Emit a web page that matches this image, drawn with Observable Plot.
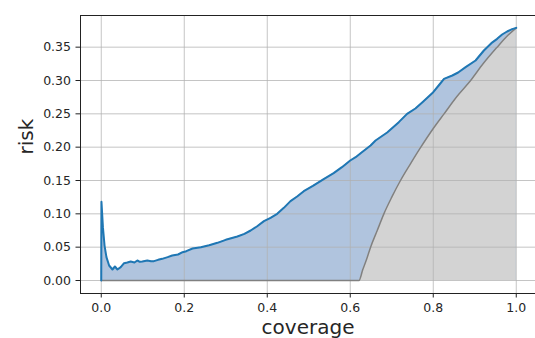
<!DOCTYPE html>
<html>
<head>
<meta charset="utf-8">
<script src="https://cdn.jsdelivr.net/npm/d3@7"></script>
<script src="https://cdn.jsdelivr.net/npm/@observablehq/plot@0.6"></script>
<style>
  html, body { margin: 0; padding: 0; background: white; }
</style>
</head>
<body>
<div id="chart"></div>
<script>
// Risk-coverage curve (blue)
const coverage = [0, 0.0005, 0.004, 0.008, 0.0125, 0.019, 0.027, 0.033, 0.039, 0.047, 0.055, 0.063, 0.071, 0.08, 0.087, 0.093, 0.099, 0.111, 0.12, 0.127, 0.137, 0.147, 0.16, 0.171, 0.185, 0.196, 0.205, 0.22, 0.24, 0.26, 0.28, 0.3, 0.328, 0.345, 0.36, 0.375, 0.392, 0.408, 0.424, 0.44, 0.456, 0.472, 0.488, 0.51, 0.537, 0.56, 0.58, 0.6, 0.613, 0.625, 0.649, 0.661, 0.689, 0.717, 0.737, 0.757, 0.774, 0.8, 0.815, 0.826, 0.846, 0.86, 0.878, 0.902, 0.922, 0.94, 0.954, 0.966, 0.978, 0.99, 1.0];
const risk = [0, 0.118, 0.08, 0.052, 0.035, 0.0225, 0.0165, 0.021, 0.0165, 0.02, 0.026, 0.027, 0.0285, 0.027, 0.030, 0.028, 0.0285, 0.030, 0.029, 0.029, 0.031, 0.0325, 0.035, 0.0375, 0.039, 0.0425, 0.044, 0.048, 0.050, 0.053, 0.0565, 0.061, 0.066, 0.070, 0.075, 0.081, 0.089, 0.094, 0.100, 0.109, 0.119, 0.126, 0.134, 0.142, 0.1525, 0.161, 0.170, 0.180, 0.185, 0.191, 0.2025, 0.21, 0.222, 0.2375, 0.25, 0.258, 0.2675, 0.2825, 0.294, 0.3025, 0.3075, 0.312, 0.32, 0.33, 0.345, 0.356, 0.3625, 0.369, 0.3735, 0.377, 0.379];

// Optimal risk curve (grey)
const optCoverage = [0, 0.621, 0.63, 0.64, 0.649, 0.665, 0.681, 0.70, 0.721, 0.745, 0.770, 0.8, 0.826, 0.857, 0.890, 0.92, 0.954, 0.977, 1.0];
const optRisk = [0, 0, 0.016, 0.033, 0.05, 0.075, 0.10, 0.125, 0.15, 0.175, 0.20, 0.228, 0.25, 0.276, 0.30, 0.325, 0.35, 0.366, 0.379];

const xTicks = [0, 0.2, 0.4, 0.6, 0.8, 1.0];
const yTicks = [0, 0.05, 0.10, 0.15, 0.20, 0.25, 0.30, 0.35];

const riskData = coverage.map((c, i) => ({c, r: risk[i]}));
const optData = optCoverage.map((c, i) => ({c, r: optRisk[i]}));

const chart = Plot.plot({
  width: 535,
  height: 338,
  marginLeft: 80,
  marginRight: 0,
  marginTop: 15,
  marginBottom: 45,
  style: {fontFamily: "DejaVu Sans", fontSize: "12.5px", color: "#262626", background: "white"},
  x: {domain: [-0.05, 1.05], range: [80, 536.5]},
  y: {domain: [-0.0195, 0.3975], range: [293, 15]},
  marks: [
    Plot.areaY(riskData, {x: "c", y: "r", fill: "#b0c4de", curve: "linear"}),
    Plot.areaY(optData, {x: "c", y: "r", fill: "#d3d3d3", curve: "monotone-x"}),
    Plot.gridX(xTicks, {stroke: "#b0b0b0", strokeOpacity: 0.75, strokeWidth: 1}),
    Plot.gridY(yTicks, {stroke: "#b0b0b0", strokeOpacity: 0.75, strokeWidth: 1}),
    Plot.line(optData, {x: "c", y: "r", stroke: "#808080", strokeWidth: 1.5, curve: "monotone-x"}),
    Plot.line(riskData, {x: "c", y: "r", stroke: "#1f77b4", strokeWidth: 2}),
    Plot.ruleY([-0.0195], {stroke: "#222", strokeWidth: 1}),
    Plot.ruleY([0.3975], {stroke: "#222", strokeWidth: 1}),
    Plot.ruleX([-0.05], {stroke: "#222", strokeWidth: 1}),
    Plot.axisX(xTicks, {tickFormat: d3.format(".1f"), tickSize: 4.5, tickPadding: 5, label: null, stroke: "#222"}),
    Plot.axisY(yTicks, {tickFormat: d3.format(".2f"), tickSize: 4.5, tickPadding: 5, label: null, stroke: "#222"}),
    Plot.text(["coverage"], {frameAnchor: "bottom", dy: 40, lineAnchor: "bottom", fontSize: 20, fill: "#262626"}),
    Plot.text(["risk"], {frameAnchor: "left", dx: -48, lineAnchor: "bottom", rotate: -90, fontSize: 20, fill: "#262626"})
  ]
});
document.getElementById("chart").appendChild(chart);
</script>
</body>
</html>
